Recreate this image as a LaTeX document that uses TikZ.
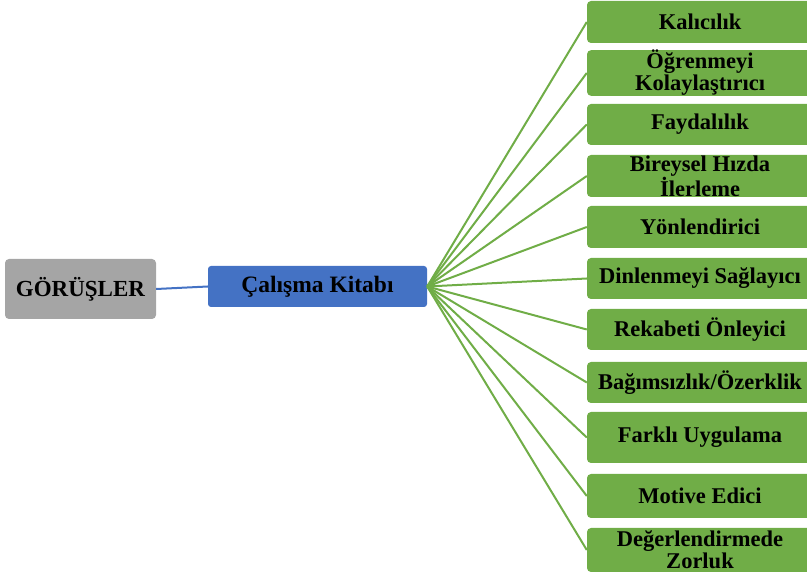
\documentclass[tikz,border=0pt]{standalone}
\usepackage{fontspec}
\setmainfont{Liberation Serif}
\usetikzlibrary{positioning}
\definecolor{rootgray}{RGB}{165,165,165}
\definecolor{mainblue}{RGB}{68,114,196}
\definecolor{leafgreen}{RGB}{112,173,71}

\begin{document}
\begin{tikzpicture}[
  x=1pt, y=-1pt,
  font=\bfseries,
  root/.style={
    rectangle,
    rounded corners=4pt,
    fill=rootgray,
    minimum width=151pt,
    minimum height=60pt,
    font=\fontsize{23}{23}\selectfont\bfseries
  },
  hub/.style={
    rectangle,
    rounded corners=3pt,
    fill=mainblue,
    minimum width=219pt,
    minimum height=41pt,
    font=\fontsize{23.5}{23.5}\selectfont\bfseries
  },
  leaf/.style={
    rectangle,
    rounded corners=4pt,
    fill=leafgreen,
    minimum width=226pt,
    minimum height=42pt,
    inner sep=0pt,
    align=center,
    font=\fontsize{22.5}{22}\selectfont\bfseries
  },
  rootlink/.style={
    line width=2pt,
    mainblue
  },
  branch/.style={
    line width=2pt,
    leafgreen
  }
]

% ------------------------------------------------------------------
% Canvas
% ------------------------------------------------------------------
\useasboundingbox (0,0) rectangle (807,577);

% ------------------------------------------------------------------
% Root + hub
% ------------------------------------------------------------------
\node[root] (gorusler) at (80.5,289) {GÖRÜŞLER};
\node[hub] (kitap) at (317.5,286.5) {Çalışma Kitabı};

\draw[rootlink] (gorusler.east) -- (kitap.west);

% ------------------------------------------------------------------
% Leaves
% ------------------------------------------------------------------
\node[leaf] (kalicilik) at (700,22) {Kalıcılık};
\node[leaf] (ogrenme) at (700,73) {Öğrenmeyi\\Kolaylaştırıcı};
\node[leaf, minimum height=41pt] (fayda) at (700,124.5) {Faydalılık};
\node[leaf] (hiz) at (700,176) {Bireysel Hızda\\İlerleme};
\node[leaf] (yon) at (700,227) {Yönlendirici};
\node[leaf, minimum height=41pt] (dinlenme) at (700,278.5) {Dinlenmeyi Sağlayıcı};
\node[leaf, minimum height=41pt] (rekabet) at (700,329.5) {Rekabeti Önleyici};
\node[leaf, minimum height=41pt] (ozerklik) at (700,382.5) {Bağımsızlık/Özerklik};
\node[leaf, minimum height=51pt] (farkli) at (700,437.5) {Farklı Uygulama};
\node[leaf, minimum height=44pt] (motive) at (700,496) {Motive Edici};
\node[leaf, minimum height=44pt] (zorluk) at (700,550) {Değerlendirmede\\Zorluk};

% ------------------------------------------------------------------
% Branches
% ------------------------------------------------------------------
\draw[branch] (kitap.east) -- (kalicilik.west);
\draw[branch] (kitap.east) -- (ogrenme.west);
\draw[branch] (kitap.east) -- (fayda.west);
\draw[branch] (kitap.east) -- (hiz.west);
\draw[branch] (kitap.east) -- (yon.west);
\draw[branch] (kitap.east) -- (dinlenme.west);
\draw[branch] (kitap.east) -- (rekabet.west);
\draw[branch] (kitap.east) -- (ozerklik.west);
\draw[branch] (kitap.east) -- (farkli.west);
\draw[branch] (kitap.east) -- (motive.west);
\draw[branch] (kitap.east) -- (zorluk.west);

\end{tikzpicture}
\end{document}
